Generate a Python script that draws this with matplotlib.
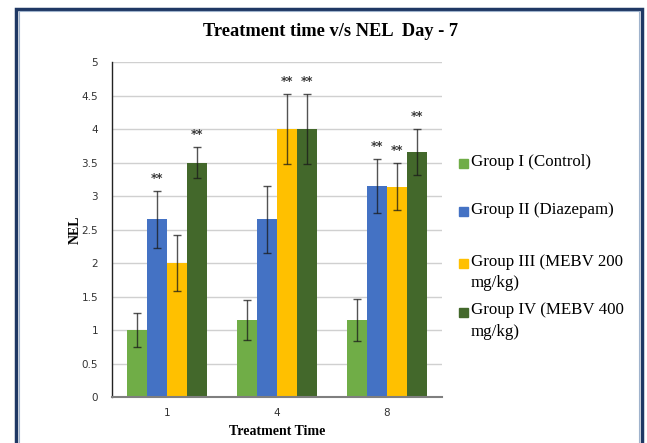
import matplotlib.pyplot as plt
import numpy as np
from matplotlib.patches import Rectangle

# NEL on day 7 for each treatment group, at treatment times 1, 4 and 8
times = ["1", "4", "8"]
groups = ["Group I (Control)", "Group II (Diazepam)",
          "Group III (MEBV 200\nmg/kg)", "Group IV (MEBV 400\nmg/kg)"]
colors = ["#70AD47", "#4472C4", "#FFC000", "#43682B"]

control = [1.0, 1.15, 1.15]
diazepam = [2.65, 2.65, 3.15]
mebv_200 = [2.0, 4.0, 3.14]
mebv_400 = [3.5, 4.0, 3.66]

control_err = [0.25, 0.30, 0.31]
diazepam_err = [0.42, 0.50, 0.40]
mebv_200_err = [0.42, 0.52, 0.35]
mebv_400_err = [0.23, 0.52, 0.34]

# groups marked ** at each time point (index into times)
significant = [[], [0, 2], [1, 2], [0, 1, 2]]

values = [control, diazepam, mebv_200, mebv_400]
errors = [control_err, diazepam_err, mebv_200_err, mebv_400_err]

fig = plt.figure(figsize=(6.47, 4.43), dpi=100)
ax = fig.add_axes([0.1731, 0.1038, 0.5101, 0.7562])

x = np.arange(len(times))
w = 20 / 110
for i, (vals, errs) in enumerate(zip(values, errors)):
    pos = x + (i - 1.5) * w
    ax.bar(pos, vals, w, color=colors[i], zorder=2)
    ax.errorbar(pos, vals, errs, fmt="none", ecolor="#1a1a1a", elinewidth=1,
                capsize=3, capthick=1, alpha=0.75, zorder=3)
    for j in significant[i]:
        ax.text(pos[j], vals[j] + errs[j] + 0.09, "**", ha="center", va="bottom",
                fontsize=8.5, fontweight="bold", color="#3a3a3a", zorder=4)

ax.set_xlim(-0.5, 2.5)
ax.set_ylim(0, 5)
ax.set_xticks(x)
ax.set_xticklabels(times)
ax.set_yticks(np.arange(0, 5.01, 0.5))
ax.set_yticklabels(["0", "0.5", "1", "1.5", "2", "2.5", "3", "3.5", "4", "4.5", "5"])
ax.tick_params(axis="both", length=0, labelsize=7.5, colors="#333333", pad=10)
ax.tick_params(axis="x", pad=8)
ax.yaxis.grid(True, color="#d0d0d0", linewidth=1, zorder=0)
ax.set_axisbelow(True)
for s in ["top", "right"]:
    ax.spines[s].set_visible(False)
ax.spines["left"].set_color("#222222")
ax.spines["left"].set_linewidth(1)
ax.spines["bottom"].set_color("#7f7f7f")
ax.spines["bottom"].set_linewidth(1.5)

ax.set_xlabel("Treatment Time", family="Liberation Serif", fontweight="bold",
              fontsize=10, labelpad=5)
ax.set_ylabel("NEL", family="Liberation Serif", fontweight="bold", fontsize=10,
              labelpad=0)
fig.text(331 / 647, 1 - 32 / 443, "Treatment time v/s NEL  Day - 7",
         family="Liberation Serif", fontweight="bold", fontsize=13.2,
         ha="center", va="center")

# legend drawn by hand so the wrapped labels sit like the original
legend_y = [163, 212, 263, 312]
for i, name in enumerate(groups):
    y = 1 - legend_y[i] / 443
    fig.patches.append(Rectangle((459 / 647, y - 4.5 / 443), 9 / 647, 9 / 443,
                                 transform=fig.transFigure, color=colors[i]))
    fig.text(471 / 647, y + 9.5 / 443, name, family="Liberation Serif", fontsize=12.2,
             ha="left", va="top", linespacing=1.45)

# double frame around the figure
fig.patches.append(Rectangle((16 / 647, -0.05), 626 / 647, 1.05 - 8.5 / 443,
                             transform=fig.transFigure, fill=False,
                             edgecolor="#1F3864", linewidth=2.5))
fig.patches.append(Rectangle((19 / 647, -0.05), 620 / 647, 1.05 - 11.5 / 443,
                             transform=fig.transFigure, fill=False,
                             edgecolor="#9fb3cc", linewidth=0.8))

fig.savefig("out.png", dpi=100)
